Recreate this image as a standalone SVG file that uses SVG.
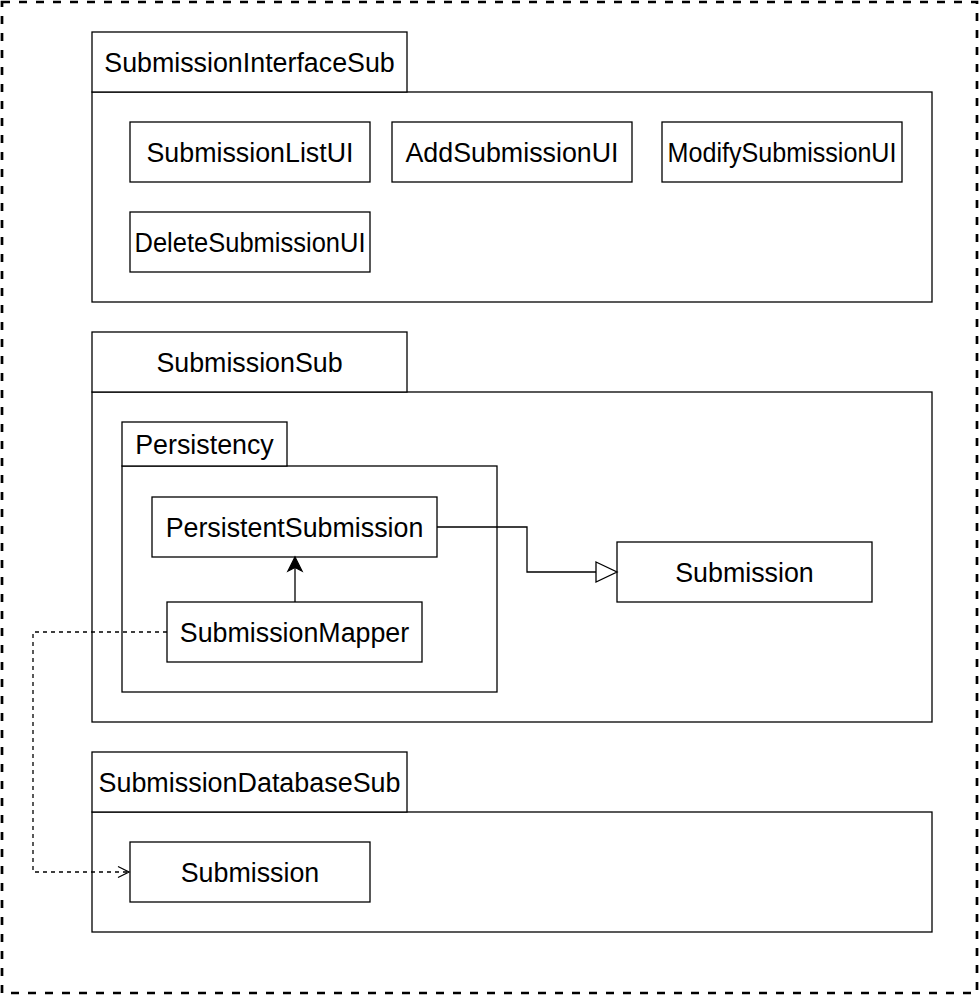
<svg xmlns="http://www.w3.org/2000/svg" width="980" height="995" viewBox="0 0 980 995">
<style>
.b{fill:#fff;stroke:#000;stroke-width:1.3}
.t{font-family:"Liberation Sans",Arial,Helvetica,sans-serif;font-size:26.8px;fill:#000;text-anchor:middle}
.c{fill:none;stroke:#000;stroke-width:1.3}
</style>
<rect width="980" height="995" fill="#fff"/>
<rect x="2" y="2" width="975" height="991" fill="none" stroke="#000" stroke-width="2.7" stroke-dasharray="8 9"/>

<g id="SubmissionInterfaceSub">
<rect class="b" x="92" y="92" width="840" height="210"/>
<rect class="b" x="92" y="32" width="315" height="60"/>
<text class="t" x="249.5" y="71.5">SubmissionInterfaceSub</text>
</g>
<g id="SubmissionListUI">
<rect class="b" x="130" y="122" width="240" height="60"/>
<text class="t" x="250" y="161.5">SubmissionListUI</text>
</g>
<g id="AddSubmissionUI">
<rect class="b" x="392" y="122" width="240" height="60"/>
<text class="t" x="512" y="161.5">AddSubmissionUI</text>
</g>
<g id="ModifySubmissionUI">
<rect class="b" x="662" y="122" width="240" height="60"/>
<text class="t" x="782" y="161.5" textLength="229" lengthAdjust="spacingAndGlyphs">ModifySubmissionUI</text>
</g>
<g id="DeleteSubmissionUI">
<rect class="b" x="130" y="212" width="240" height="60"/>
<text class="t" x="250" y="251.5" textLength="231" lengthAdjust="spacingAndGlyphs">DeleteSubmissionUI</text>
</g>

<g id="SubmissionSub">
<rect class="b" x="92" y="392" width="840" height="330"/>
<rect class="b" x="92" y="332" width="315" height="60"/>
<text class="t" x="249.5" y="371.5">SubmissionSub</text>
</g>
<g id="Persistency">
<rect class="b" x="122" y="466" width="375" height="226"/>
<rect class="b" x="122" y="422" width="165" height="44"/>
<text class="t" x="204.5" y="453.5">Persistency</text>
</g>
<g id="PersistentSubmission">
<rect class="b" x="152" y="497" width="285" height="60"/>
<text class="t" x="294.5" y="536.5">PersistentSubmission</text>
</g>
<g id="SubmissionMapper">
<rect class="b" x="167" y="602" width="255" height="60"/>
<text class="t" x="294.5" y="641.5">SubmissionMapper</text>
</g>
<g id="Submission">
<rect class="b" x="617" y="542" width="255" height="60"/>
<text class="t" x="744.5" y="581.5">Submission</text>
</g>

<g id="SubmissionDatabaseSub">
<rect class="b" x="92" y="812" width="840" height="120"/>
<rect class="b" x="92" y="752" width="315" height="60"/>
<text class="t" x="249.5" y="791.5" textLength="302" lengthAdjust="spacingAndGlyphs">SubmissionDatabaseSub</text>
</g>
<g id="SubmissionDB">
<rect class="b" x="130" y="842" width="240" height="60"/>
<text class="t" x="250" y="881.5">Submission</text>
</g>

<g id="connectors">
<polyline class="c" points="437,527 527,527 527,572 596,572"/>
<path d="M596,562 L617,572 L596,582 Z" fill="#fff" stroke="#000" stroke-width="1.3"/>
<line class="c" x1="295" y1="602" x2="295" y2="566"/>
<path d="M295,557 L302,571 L295,567.5 L288,571 Z" fill="#000" stroke="#000" stroke-width="1.3"/>
<polyline class="c" points="167,632 33,632 33,872 128,872" stroke-dasharray="4 4"/>
<polyline class="c" points="118,866.5 129,872 118,877.5"/>
</g>
</svg>
